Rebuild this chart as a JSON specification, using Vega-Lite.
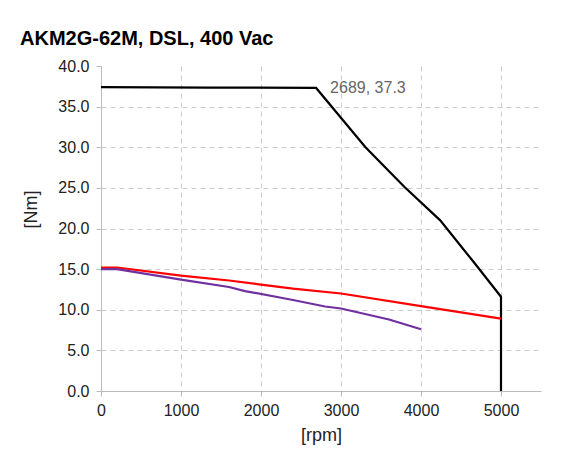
{
  "$schema": "https://vega.github.io/schema/vega-lite/v6.json",
  "autosize": "none",
  "width": 440,
  "height": 325,
  "padding": {"left": 101, "top": 66, "right": 31, "bottom": 73},
  "background": "white",
  "title": {
    "text": "AKM2G-62M, DSL, 400 Vac",
    "anchor": "start",
    "frame": "group",
    "dx": -81,
    "offset": 9,
    "font": "Liberation Sans",
    "fontSize": 20,
    "fontWeight": "bold",
    "color": "#000000"
  },
  "config": {
    "view": {"stroke": null},
    "font": "Liberation Sans"
  },
  "datasets": {
    "curves": [
      {"rpm": 0, "torque": 37.4, "series": "peak"},
      {"rpm": 1350, "torque": 37.35, "series": "peak"},
      {"rpm": 2689, "torque": 37.3, "series": "peak"},
      {"rpm": 3306, "torque": 30.0, "series": "peak"},
      {"rpm": 3794, "torque": 25.1, "series": "peak"},
      {"rpm": 4240, "torque": 21.0, "series": "peak"},
      {"rpm": 4656, "torque": 15.9, "series": "peak"},
      {"rpm": 5000, "torque": 11.6, "series": "peak"},
      {"rpm": 5000, "torque": 0, "series": "peak"},
      {"rpm": 0, "torque": 15.2, "series": "cont"},
      {"rpm": 200, "torque": 15.2, "series": "cont"},
      {"rpm": 1000, "torque": 14.2, "series": "cont"},
      {"rpm": 1600, "torque": 13.6, "series": "cont"},
      {"rpm": 2000, "torque": 13.1, "series": "cont"},
      {"rpm": 2400, "torque": 12.6, "series": "cont"},
      {"rpm": 3000, "torque": 12.0, "series": "cont"},
      {"rpm": 4000, "torque": 10.45, "series": "cont"},
      {"rpm": 5000, "torque": 8.9, "series": "cont"},
      {"rpm": 0, "torque": 15.0, "series": "cont2"},
      {"rpm": 200, "torque": 15.0, "series": "cont2"},
      {"rpm": 1000, "torque": 13.7, "series": "cont2"},
      {"rpm": 1600, "torque": 12.8, "series": "cont2"},
      {"rpm": 1800, "torque": 12.3, "series": "cont2"},
      {"rpm": 2400, "torque": 11.2, "series": "cont2"},
      {"rpm": 2800, "torque": 10.4, "series": "cont2"},
      {"rpm": 3000, "torque": 10.15, "series": "cont2"},
      {"rpm": 3600, "torque": 8.8, "series": "cont2"},
      {"rpm": 4000, "torque": 7.6, "series": "cont2"}
    ],
    "corner": [
      {"rpm": 2689, "torque": 37.3, "label": "2689, 37.3"}
    ]
  },
  "layer": [
    {
      "data": {"name": "curves"},
      "mark": {"type": "line", "strokeWidth": 2.2, "interpolate": "linear"},
      "encoding": {
        "x": {
          "field": "rpm",
          "type": "quantitative",
          "scale": {"domain": [0, 5500], "nice": false},
          "axis": {
            "title": "[rpm]",
            "values": [0, 1000, 2000, 3000, 4000, 5000],
            "format": "d",
            "labelFlush": false,
            "labelFont": "Liberation Sans",
            "labelFontSize": 16,
            "labelColor": "#222222",
            "labelPadding": 6,
            "tickSize": 5,
            "tickColor": "#bbbbbb",
            "domainColor": "#bbbbbb",
            "grid": true,
            "gridColor": "#cccccc",
            "gridDash": [5, 4],
            "titleFont": "Liberation Sans",
            "titleFontSize": 18,
            "titleFontWeight": "normal",
            "titleColor": "#222222",
            "titlePadding": 8
          }
        },
        "y": {
          "field": "torque",
          "type": "quantitative",
          "scale": {"domain": [0, 40], "nice": false},
          "axis": {
            "title": "[Nm]",
            "values": [0, 5, 10, 15, 20, 25, 30, 35, 40],
            "format": ".1f",
            "labelFont": "Liberation Sans",
            "labelFontSize": 16,
            "labelColor": "#222222",
            "labelPadding": 7,
            "labelFlush": false,
            "tickSize": 5,
            "tickColor": "#bbbbbb",
            "domainColor": "#bbbbbb",
            "grid": true,
            "gridColor": "#cccccc",
            "gridDash": [5, 4],
            "gridOpacity": {"condition": {"test": "datum.value === 40", "value": 0}, "value": 1},
            "titleFont": "Liberation Sans",
            "titleFontSize": 18,
            "titleFontWeight": "normal",
            "titleColor": "#222222",
            "titleAngle": -90,
            "titleX": -70,
            "titleY": 143,
            "titleAlign": "center",
            "titleBaseline": "middle"
          }
        },
        "color": {
          "field": "series",
          "type": "nominal",
          "scale": {"domain": ["peak", "cont", "cont2"], "range": ["#000000", "#ff0000", "#7030a0"]},
          "legend": null
        }
      }
    },
    {
      "data": {"name": "corner"},
      "mark": {"type": "text", "align": "left", "baseline": "middle", "dx": 14, "fontSize": 16, "color": "#666666", "font": "Liberation Sans"},
      "encoding": {
        "x": {"field": "rpm", "type": "quantitative"},
        "y": {"field": "torque", "type": "quantitative"},
        "text": {"field": "label"}
      }
    }
  ]
}
